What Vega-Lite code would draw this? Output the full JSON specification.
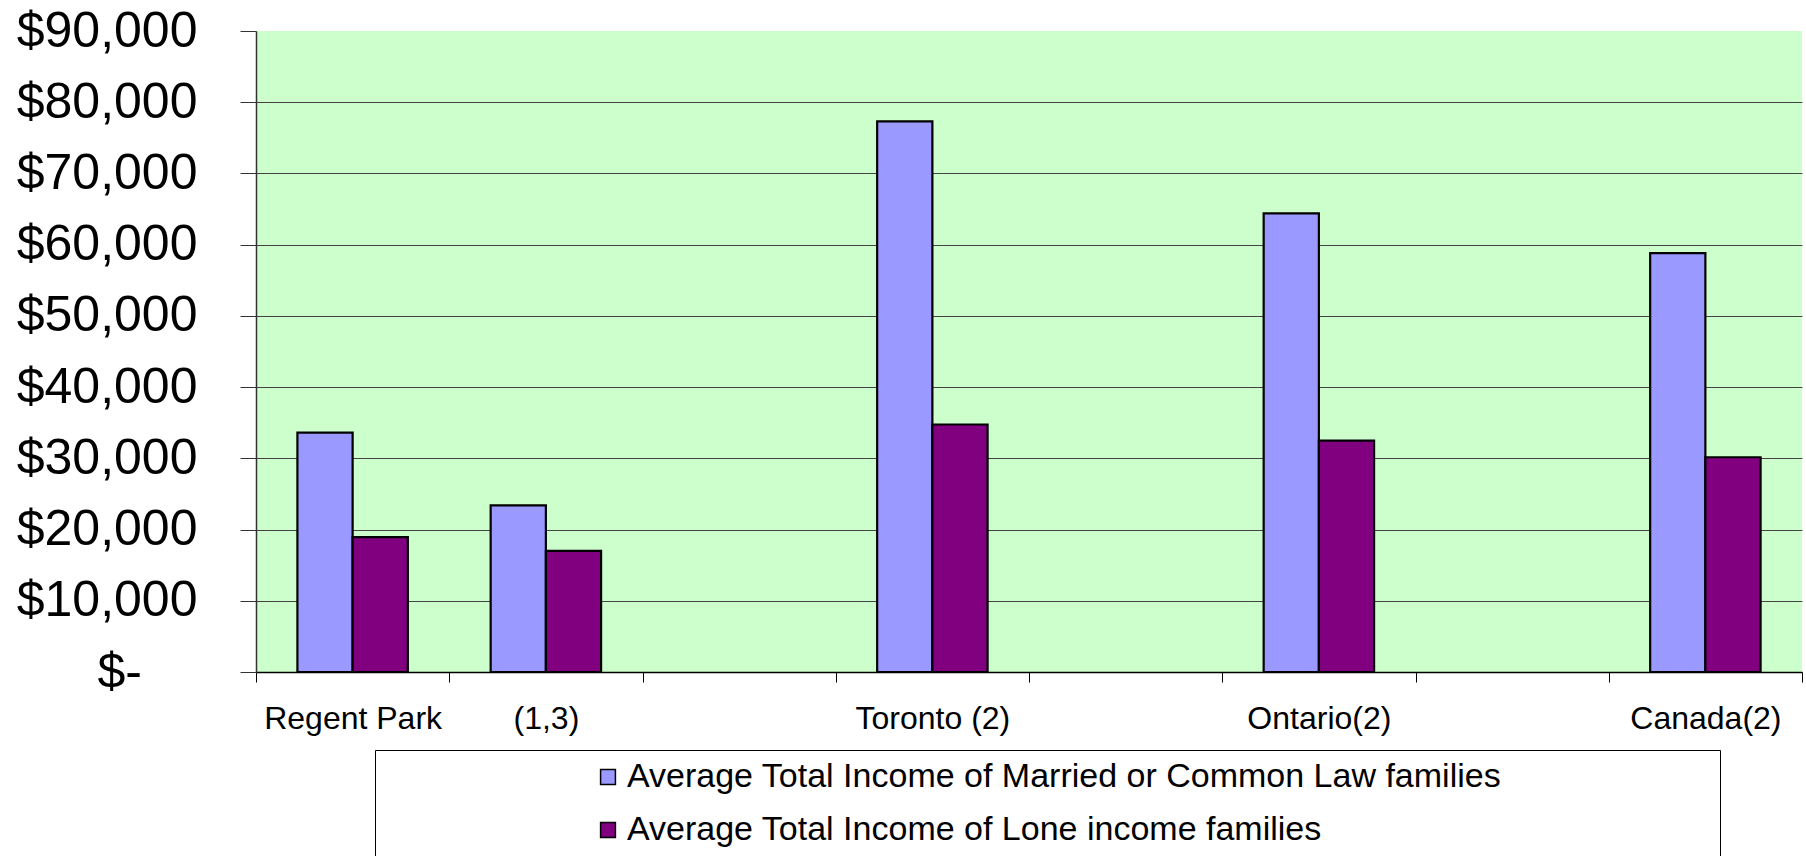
{
  "$schema": "https://vega.github.io/schema/vega-lite/v6.json",
  "width": 1546,
  "height": 641,
  "autosize": {"type": "none"},
  "padding": {"left": 256, "top": 31, "right": 4, "bottom": 184},
  "background": "white",
  "config": {"view": {"fill": "#CCFFCC", "stroke": null}, "font": "Liberation Sans"},
  "data": {
    "values": [
      {"area": "Regent Park", "series": "Average Total Income of Married or Common Law families", "income": 33600},
      {"area": "Regent Park", "series": "Average Total Income of Lone income families", "income": 18950},
      {"area": "(1,3)", "series": "Average Total Income of Married or Common Law families", "income": 23400},
      {"area": "(1,3)", "series": "Average Total Income of Lone income families", "income": 17000},
      {"area": "Toronto (2)", "series": "Average Total Income of Married or Common Law families", "income": 77300},
      {"area": "Toronto (2)", "series": "Average Total Income of Lone income families", "income": 34750},
      {"area": "Ontario(2)", "series": "Average Total Income of Married or Common Law families", "income": 64400},
      {"area": "Ontario(2)", "series": "Average Total Income of Lone income families", "income": 32500},
      {"area": "Canada(2)", "series": "Average Total Income of Married or Common Law families", "income": 58800},
      {"area": "Canada(2)", "series": "Average Total Income of Lone income families", "income": 30150}
    ]
  },
  "mark": {"type": "bar", "stroke": "black", "strokeWidth": 2.2},
  "encoding": {
    "x": {
      "field": "area",
      "type": "nominal",
      "scale": {
        "domain": ["Regent Park", "(1,3)", "g1", "Toronto (2)", "g2", "Ontario(2)", "g3", "Canada(2)"],
        "paddingInner": 0,
        "paddingOuter": 0
      },
      "axis": {
        "title": null,
        "tickBand": "extent",
        "labelAngle": 0,
        "labelFontSize": 32,
        "labelColor": "black",
        "labelPadding": 21,
        "tickSize": 10,
        "tickColor": "black",
        "tickWidth": 1,
        "domainColor": "black",
        "domainWidth": 1.5,
        "labelOverlap": false,
        "labelLimit": 500,
        "grid": false,
        "labelExpr": "(datum.value == 'g1' || datum.value == 'g2' || datum.value == 'g3') ? '' : datum.label"
      }
    },
    "xOffset": {
      "field": "series",
      "type": "nominal",
      "scale": {
        "domain": ["Average Total Income of Married or Common Law families", "Average Total Income of Lone income families"],
        "paddingOuter": 0.75,
        "paddingInner": 0
      }
    },
    "y": {
      "field": "income",
      "type": "quantitative",
      "scale": {"domain": [0, 90000], "nice": false},
      "axis": {
        "title": null,
        "values": [0, 10000, 20000, 30000, 40000, 50000, 60000, 70000, 80000, 90000],
        "labelFontSize": 50,
        "labelColor": "black",
        "labelLimit": 400,
        "labelPadding": 43,
        "tickSize": 16,
        "tickColor": "#333333",
        "domainColor": "#333333",
        "domainWidth": 1.5,
        "grid": true,
        "gridColor": "#444444",
        "gridWidth": 1.2,
        "gridOpacity": {"condition": {"test": "datum.value == 90000", "value": 0}, "value": 1},
        "labelExpr": "datum.value == 0 ? '$-\u00a0\u00a0\u00a0\u00a0\u200b' : '$' + format(datum.value, ',')"
      }
    },
    "color": {
      "field": "series",
      "type": "nominal",
      "scale": {
        "domain": ["Average Total Income of Married or Common Law families", "Average Total Income of Lone income families"],
        "range": ["#9999FF", "#800080"]
      },
      "legend": {
        "orient": "none",
        "legendX": 119,
        "legendY": 719,
        "direction": "vertical",
        "title": "\u200b\u00a0\u00a0\u00a0\u00a0\u00a0\u00a0\u00a0\u00a0\u00a0\u00a0\u00a0\u00a0\u00a0\u00a0\u00a0\u00a0\u00a0\u00a0\u00a0\u00a0\u00a0\u00a0\u00a0\u200b",
        "titleOrient": "left",
        "titleFontSize": 32,
        "titleLimit": 1000,
        "titlePadding": 1,
        "padding": 10,
        "strokeColor": "black",
        "fillColor": "white",
        "symbolType": "square",
        "symbolSize": 220,
        "symbolStrokeColor": "black",
        "symbolStrokeWidth": 1.5,
        "symbolOpacity": 1,
        "labelFontSize": 34,
        "labelColor": "black",
        "labelLimit": 2000,
        "labelOffset": 2,
        "rowPadding": 19,
        "labelExpr": "datum.label + '\u00a0\u00a0\u00a0\u00a0\u00a0\u00a0\u00a0\u00a0\u00a0\u00a0\u00a0\u00a0\u00a0\u00a0\u00a0\u00a0\u00a0\u00a0\u00a0\u00a0\u00a0\u00a0\u200b'"
      }
    }
  }
}
